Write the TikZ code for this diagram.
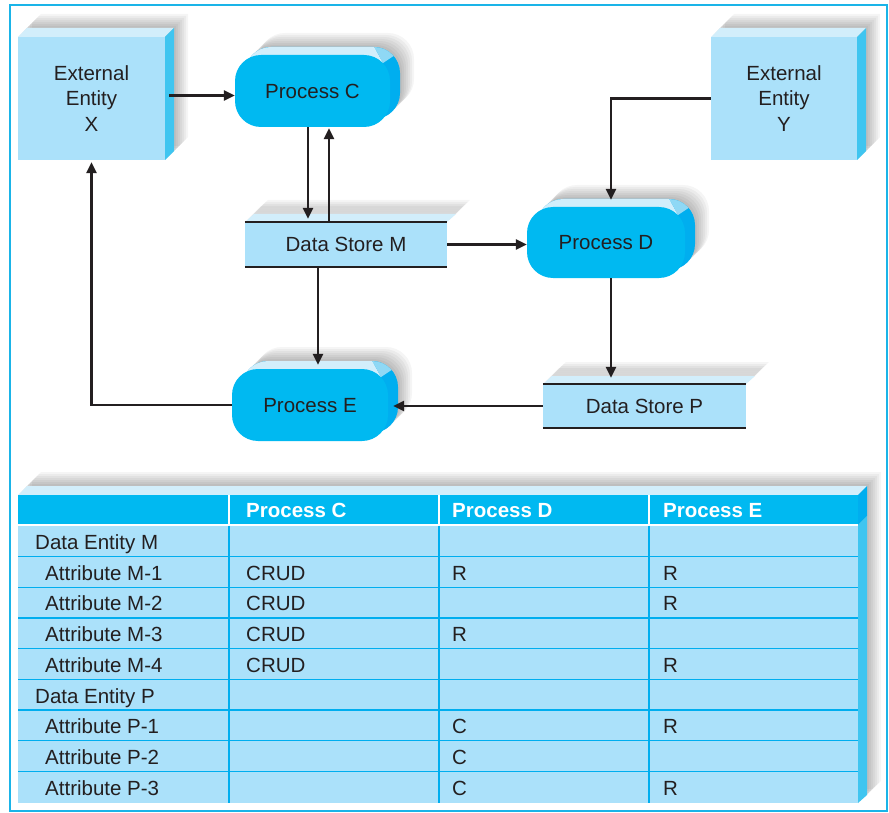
\documentclass[tikz,border=0pt]{standalone}
\usepackage{fontspec}
\setmainfont{Liberation Sans}
\usetikzlibrary{arrows.meta,calc}
\definecolor{eblue}{HTML}{ABE1FA}
\definecolor{ltop}{HTML}{D2EEFB}
\definecolor{eside}{HTML}{3FC5F0}
\definecolor{pcyan}{HTML}{00B9F1}
\definecolor{pside}{HTML}{00AEEF}
\definecolor{pmid}{HTML}{8FD8F5}
\definecolor{frcol}{HTML}{1AB4E8}
\definecolor{ink}{HTML}{231F20}
\newcommand\dfont{\fontsize{20.5pt}{25.5pt}\selectfont}
\newcommand\softshadow[1]{\foreach \s in {2,4,...,14}{\fill[black,opacity=0.04,shift={(\s,-\s)}] #1;}}
\newcommand\entitybox[6]{%
 \softshadow{(#2,#3)--({#2+9},{#3-9})--({#4+9},{#3-9})--({#4+9},{#5-9})--(#4,#5)--(#2,#5)--cycle}%
 \fill[ltop] (#2,#3)--({#2+9},{#3-9})--({#4+9},{#3-9})--(#4,#3)--cycle;
 \fill[eside] (#4,#3)--({#4+9},{#3-9})--({#4+9},{#5-9})--(#4,#5)--cycle;
 \node[entity,minimum width={#4-#2},minimum height={#5-#3}] (#1) at ({(#2+#4)/2},{(#3+#5)/2}) {#6};}
\newcommand\procbox[6]{%
 \foreach \s in {2,4,...,14}{\fill[black,opacity=0.04,rounded corners=26pt] ({#2+10+\s},{#3-8-\s}) rectangle ({#4+10+\s},{#5-8-\s});}
 \begin{scope}
 \clip[rounded corners=26pt] ({#2+10},{#3-8}) rectangle ({#4+10},{#5-8});
 \fill[pside] ({#2},{#3-12}) rectangle ({#4+12},{#5});
 \fill[ltop] ({#2-5},{#3-14}) -- ({#4-19},{#3-14}) -- ({#4-7},{#3+8}) -- ({#2-5},{#3+8}) -- cycle;
 \fill[pmid] ({#4-19},{#3-14}) -- ({#4+16},{#3-14}) -- ({#4+5},{#3}) -- ({#4-7},{#3+8}) -- cycle;
 \end{scope}
 \node[proc,minimum width={#4-#2},minimum height={#5-#3}] (#1) at ({(#2+#4)/2},{(#3+#5)/2}) {#6};}
\newcommand\storebox[6]{%
 \softshadow{(#2,#3)--({#2+9},{#3-8})--({#4+9},{#3-8})--(#4,#3)--cycle}%
 \fill[ltop] (#2,#3)--({#2+9},{#3-8})--({#4+9},{#3-8})--(#4,#3)--cycle;
 \node[store,minimum width={#4-#2},minimum height={#5-#3}] (#1) at ({(#2+#4)/2},{(#3+#5)/2}) {#6};
 \draw[ink,line width=2.5pt] (#1.north west)--(#1.north east) (#1.south west)--(#1.south east);}
\tikzset{
 entity/.style={rectangle,fill=eblue,inner sep=0pt,align=center,font=\dfont,text=ink},
 proc/.style={rectangle,rounded corners=26pt,fill=pcyan,inner sep=0pt,font=\dfont,text=ink,text height=14.7pt,text depth=0pt},
 store/.style={rectangle,fill=eblue,inner sep=0pt,font=\dfont,text=ink,text height=14.7pt,text depth=0pt},
 cell/.style={anchor=west,inner sep=0pt,font=\dfont,text=ink,text height=14.7pt,text depth=0pt},
 hcell/.style={anchor=west,inner sep=0pt,font=\dfont\bfseries,text=white,text height=14.7pt,text depth=0pt},
 arr/.style={draw=ink,line width=2.5pt,-{Triangle[length=11pt,width=10pt]}}
}
\begin{document}
\begin{tikzpicture}[x=1pt,y=-1pt]
\useasboundingbox (0,0) rectangle (889,813);
\fill[white] (0,0) rectangle (889,813);
\draw[frcol,line width=1.6pt] (10,5) rectangle (887,811);
% diagram shapes
\entitybox{X}{18}{37}{165}{160}{External\\Entity\\X}
\entitybox{Y}{711}{37}{857}{160}{External\\Entity\\Y}
\procbox{C}{235}{55}{390}{127}{Process C}
\procbox{D}{527}{207}{685}{278}{Process D}
\procbox{E}{232}{369}{388}{441}{Process E}
\storebox{M}{245}{222}{447}{267}{Data Store M}
\storebox{P}{543}{384}{746}{428}{Data Store P}
% connectors
\coordinate (xc) at ($(C.west)+(0,4.5)$);
\draw[arr] ($(X.east |- xc)+(4,0)$) -- (xc);
\coordinate (c1) at ($(C.south)+(-4.5,0)$);
\coordinate (c2) at ($(C.south)+(16.5,1)$);
\draw[arr,shorten >=3pt] (c1) -- (c1 |- M.north);
\draw[arr] (c2 |- M.north) -- (c2);
\draw[arr] (M.east) -- (M.east -| D.west);
\coordinate (d1) at ($(D.north)+(5,0)$);
\draw[arr,shorten >=7pt] (Y.west) -| (d1);
\coordinate (d2) at ($(D.south)+(5,0)$);
\draw[arr,shorten >=6pt] (d2) -- (d2 |- P.north);
\coordinate (e1) at ($(E.north)+(8,0)$);
\draw[arr,shorten >=4pt] (e1 |- M.south) -- (e1);
\draw[arr,shorten >=5pt] (P.west) -- (P.west -| E.east);
\draw[arr,shorten >=2pt] (E.west) -| (X.south);
% table
\softshadow{(18,495)--(27,486)--(867,486)--(867,795)--(858,803)--(18,803)--cycle}
\fill[ltop] (18,495)--(27,486)--(867,486)--(858,495)--cycle;
\fill[pside] (858,495)--(867,486)--(867,516)--(858,525)--cycle;
\fill[eside] (858,525)--(867,516)--(867,795)--(858,803)--cycle;
\fill[pcyan] (18,495) rectangle (858,525);
\fill[eblue] (18,525) rectangle (858,803);
\foreach \k in {0,...,7}{\draw[pside,line width=1.3pt] (18,{556.5+30.7*\k}) -- (858,{556.5+30.7*\k});}
\draw[white,line width=1.2pt] (18,525) -- (858,525);
\foreach \cx in {229,439,649}{
 \draw[white,line width=1.3pt] (\cx,495) -- (\cx,525);
 \draw[pside,line width=1.3pt] (\cx,525.6) -- (\cx,803);}
\node[hcell] (hC) at (246,510) {Process C};
\node[hcell] (hD) at (452,510) {Process D};
\node[hcell] (hE) at (663,510) {Process E};
\node[cell] (r1) at (35,541.8) {Data Entity M};
\node[cell] (r2) at (45,572.9) {Attribute M-1};
\node[cell] (r3) at (45,603.6) {Attribute M-2};
\node[cell] (r4) at (45,634.3) {Attribute M-3};
\node[cell] (r5) at (45,665.0) {Attribute M-4};
\node[cell] (r6) at (35,695.7) {Data Entity P};
\node[cell] (r7) at (45,726.4) {Attribute P-1};
\node[cell] (r8) at (45,757.1) {Attribute P-2};
\node[cell] (r9) at (45,788.2) {Attribute P-3};
\node[cell] (r2c) at (246,572.9) {CRUD};
\node[cell] (r2d) at (452,572.9) {R};
\node[cell] (r2e) at (663,572.9) {R};
\node[cell] (r3c) at (246,603.6) {CRUD};
\node[cell] (r3e) at (663,603.6) {R};
\node[cell] (r4c) at (246,634.3) {CRUD};
\node[cell] (r4d) at (452,634.3) {R};
\node[cell] (r5c) at (246,665.0) {CRUD};
\node[cell] (r5e) at (663,665.0) {R};
\node[cell] (r7d) at (452,726.4) {C};
\node[cell] (r7e) at (663,726.4) {R};
\node[cell] (r8d) at (452,757.1) {C};
\node[cell] (r9d) at (452,788.2) {C};
\node[cell] (r9e) at (663,788.2) {R};
\end{tikzpicture}
\end{document}
